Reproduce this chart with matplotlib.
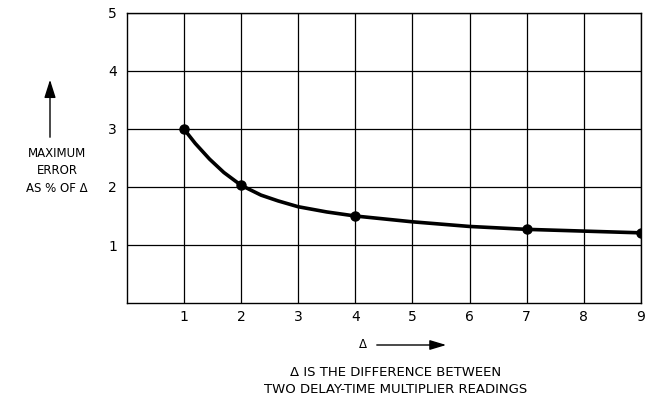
import numpy as np
import matplotlib.pyplot as plt

# values
curve_x = [1, 1.2, 1.45, 1.7, 2, 2.35, 2.65, 3, 3.5, 4, 5, 6, 7, 8, 9]
curve_y = [3.0, 2.75, 2.48, 2.25, 2.03, 1.86, 1.76, 1.66, 1.57, 1.50, 1.40, 1.32, 1.27, 1.24, 1.21]

# measured points (dots)
pts_x = [1, 2, 4, 7, 9]
pts_y = [3.0, 2.03, 1.50, 1.27, 1.21]

xticks = [1, 2, 3, 4, 5, 6, 7, 8, 9]
yticks = [1, 2, 3, 4, 5]

plt.rcParams['font.family'] = 'DejaVu Sans'

fig = plt.figure(figsize=(6.5, 4.03), dpi=100)
ax = fig.add_axes([0.195, 0.248, 0.791, 0.72])

ax.plot(curve_x, curve_y, color='black', linewidth=2.6, solid_capstyle='round',
        solid_joinstyle='round')
ax.plot(pts_x, pts_y, linestyle='none', marker='o', markersize=6.5, color='black')

ax.set_xlim(0, 9)
ax.set_ylim(0, 5)
ax.set_xticks(xticks)
ax.set_yticks(yticks)
ax.tick_params(axis='x', length=0, labelsize=10, pad=5)
ax.tick_params(axis='y', length=0, labelsize=10, pad=7)
ax.grid(color='black', linewidth=0.9)
for s in ax.spines.values():
    s.set_linewidth(1.0)

# y label with arrow
fig.text(57/650, 1 - 171/403, 'MAXIMUM\nERROR\nAS % OF Δ', ha='center', va='center',
         fontsize=8.5, linespacing=1.45)
fig.add_artist(plt.matplotlib.patches.FancyArrowPatch(
    (50/650, 1 - 140/403), (50/650, 1 - 77/403), transform=fig.transFigure,
    arrowstyle='-|>,head_length=11,head_width=3.5', color='black', linewidth=1.0))

# x label with arrow
fig.text(363/650, 1 - 345/403, 'Δ', ha='center', va='center', fontsize=8.5)
fig.add_artist(plt.matplotlib.patches.FancyArrowPatch(
    (374/650, 1 - 345/403), (449/650, 1 - 345/403), transform=fig.transFigure,
    arrowstyle='-|>,head_length=10,head_width=3', color='black', linewidth=1.0))

fig.text(396/650, 1 - 381/403, 'Δ IS THE DIFFERENCE BETWEEN\nTWO DELAY-TIME MULTIPLIER READINGS',
         ha='center', va='center', fontsize=9.5, linespacing=1.4)

fig.savefig('out.png', dpi=100)
